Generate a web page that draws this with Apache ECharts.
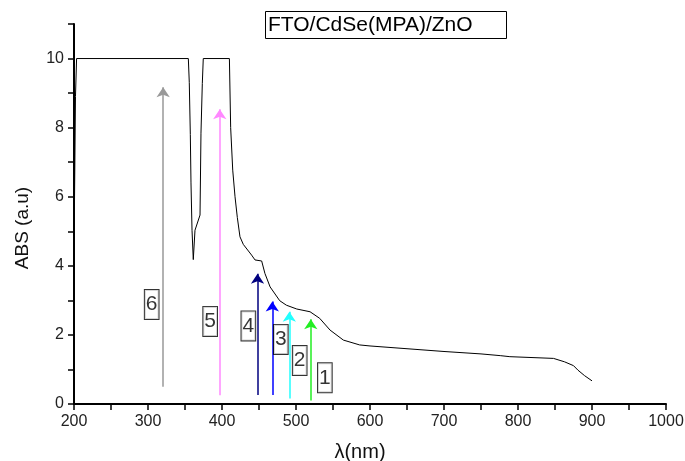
<!DOCTYPE html>
<html>
<head>
<meta charset="utf-8">
<script src="https://cdn.jsdelivr.net/npm/echarts@6/dist/echarts.min.js"></script>
<style>html,body{margin:0;padding:0;background:#fff}#c{width:685px;height:461px}</style>
</head>
<body>
<div id="c"></div>
<script>
var wavelength = [200,201,202,203.5,354.5,355.8,357.2,358.1,359.5,361.2,363.5,370.3,371.6,373.4,374.7,410,411.7,414.5,417.6,420.7,424.3,428.8,440,444.6,453.6,455,458,465,478,487,501,519,532,546,564,586,600,650,700,750,776,789,848,863,875,881,890,900];
var absorbance = [4.35,6.6,8.9,10,10,9.3,7.8,6.4,5.03,4.18,5.03,5.47,7.84,9.28,10,10,8.0,6.77,6.0,5.4,4.84,4.62,4.31,4.17,4.14,4.09,3.78,3.39,2.99,2.86,2.75,2.67,2.48,2.14,1.85,1.71,1.68,1.6,1.52,1.45,1.40,1.37,1.32,1.22,1.11,0.98,0.82,0.67];
var arrowLabels = ['6','5','4','3','2','1'];
var arrowX = [320.5,397,448,468,491,520];
var arrowBottom = [0.5,0.25,0.26,0.26,0.16,0.1];
var arrowTop = [9.2,8.56,3.8,3.0,2.7,2.48];
var arrowColors = ['#999999','#ff88ff','#00007f','#0000ff','#22ffff','#22ee22'];
var boxX = [305,384,435.6,479.5,505,539];
var boxY = [2.88,2.39,2.26,1.87,1.26,0.76];
var titleText = 'FTO/CdSe(MPA)/ZnO';

var curve = wavelength.map(function(w,i){return [w, absorbance[i]];});
var arrows = arrowX.map(function(x,i){
  return {coords:[[x,arrowBottom[i]],[x,arrowTop[i]-0.03]], lineStyle:{color:arrowColors[i]}};
});
var boxes = boxX.map(function(x,i){return [x, boxY[i], arrowLabels[i]];});

var chart = echarts.init(document.getElementById('c'));
chart.setOption({
  animation:false,
  backgroundColor:'#fff',
  title:{
    text:titleText, left:265, top:11,
    padding:[4,34,3,3],
    borderColor:'#000', borderWidth:1,
    textStyle:{fontFamily:'Liberation Sans, Arial', fontSize:21, fontWeight:'normal', color:'#000', lineHeight:21}
  },
  grid:{left:74,right:19,top:24,bottom:57,containLabel:false,outerBoundsMode:'none'},
  xAxis:{
    type:'value', min:200, max:1000, interval:50,
    name:'λ(nm)', nameLocation:'middle', nameGap:38,
    nameTextStyle:{fontFamily:'Liberation Sans, Arial', fontSize:20, color:'#111', padding:[0,20,0,0]},
    axisLine:{show:true, onZero:false, lineStyle:{color:'#000', width:2}},
    axisTick:{show:true, length:6, lineStyle:{color:'#000', width:1.5}},
    axisLabel:{margin:10, fontFamily:'Liberation Sans, Arial', fontSize:16, color:'#222',
      formatter:function(v){return v%100===0 ? String(v) : '';}},
    splitLine:{show:false}
  },
  yAxis:{
    type:'value', min:0, max:11, interval:1,
    name:'ABS (a.u)', nameLocation:'middle', nameGap:42,
    nameTextStyle:{fontFamily:'Liberation Sans, Arial', fontSize:19, color:'#111', padding:[0,28,0,0]},
    axisLine:{show:true, lineStyle:{color:'#000', width:2}},
    axisTick:{show:true, length:6, lineStyle:{color:'#000', width:1.5}},
    axisLabel:{margin:10, fontFamily:'Liberation Sans, Arial', fontSize:16, color:'#222',
      formatter:function(v){return (v%2===0 && v<=10) ? String(v) : '';}},
    splitLine:{show:false}
  },
  series:[
    {type:'line', data:curve, symbol:'none', smooth:false, lineStyle:{color:'#000', width:1}, z:3},
    {type:'lines', coordinateSystem:'cartesian2d', data:arrows, symbol:['none','arrow'], symbolSize:10,
      lineStyle:{width:1.5, opacity:1}, z:4},
    {type:'scatter', data:boxes, symbolSize:0, z:5,
      label:{show:true, position:'inside', formatter:function(p){return p.data[2];},
        fontFamily:'Liberation Sans, Arial', fontSize:21, color:'#000',
        backgroundColor:'#fff', borderColor:'#000', borderWidth:1, padding:[4,1,3,1], lineHeight:22}}
  ]
});
</script>
</body>
</html>
